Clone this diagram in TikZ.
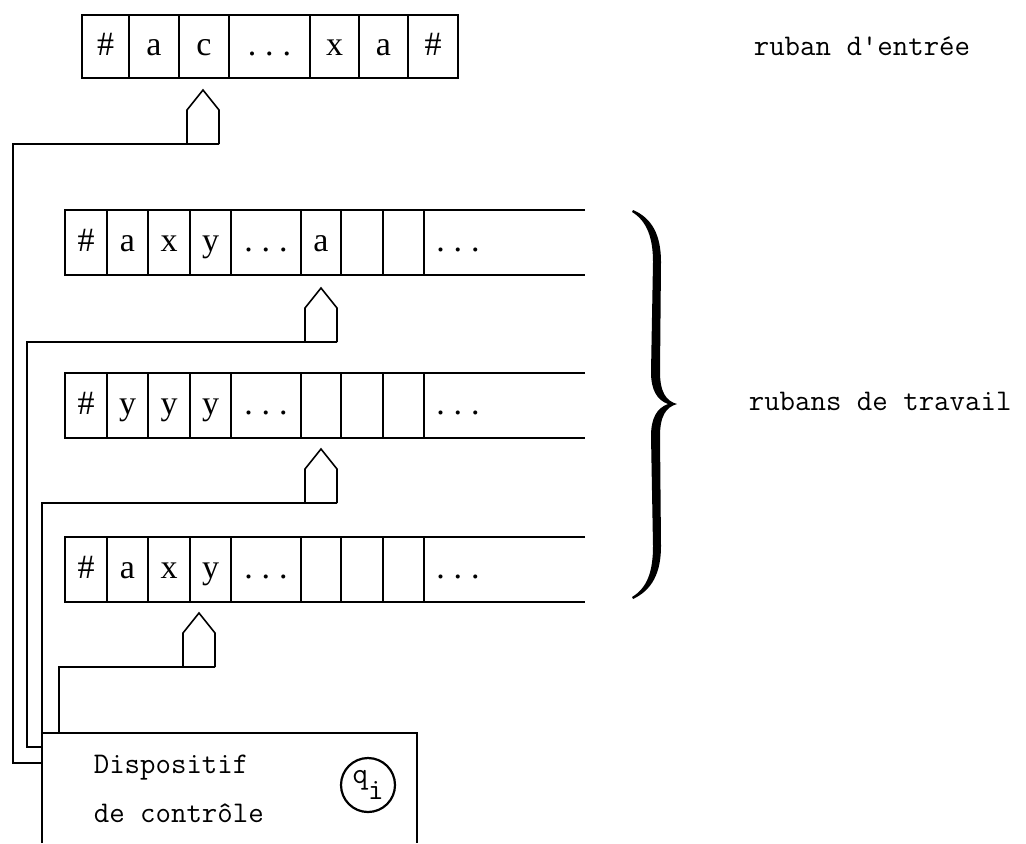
\documentclass[tikz,border=0pt]{standalone}
\usepackage{fontspec}
\setmainfont{Liberation Serif}
\begin{document}
\begin{tikzpicture}[x=0.5pt,y=-0.5pt,line width=0.8pt,
  cell/.style={inner sep=0pt,anchor=base,font=\fontsize{17}{18}\selectfont},
  lab/.style={inner sep=0pt,anchor=base west,font=\fontsize{15}{17}\ttfamily},
  head/.pic={\draw (-16,0) -- (-16,-34) -- (0,-54) -- (16,-34) -- (16,0);}]
\useasboundingbox (0,0) rectangle (1026,843);
\newcommand{\dts}{.\kern4.5pt.\kern4.5pt.}
% input tape
\draw (82,15) rectangle (458,78);
\foreach \x in {129,179,229,310,359,408} \draw (\x,15) -- (\x,78);
\foreach \t/\x [count=\i] in {\#/105.5,a/154,c/204,\dts/269.5,x/334.5,a/383.5,\#/433}
  \node[cell] (in\i) at (\x,55) {\t};
% work tapes
\foreach \y/\n in {210/A,373/B,537/C}{
  \draw (585,\y) -- (65,\y) -- (65,\y+65) -- (585,\y+65);
  \foreach \x in {107,148,190,231,301,341,383,424} \draw (\x,\y) -- (\x,\y+65);
}
\foreach \t/\x [count=\i] in {\#/86,a/127.5,x/169,y/210.5,\dts/266,a/321}
  \node[cell] (A\i) at (\x,251.5) {\t};
\node[cell] (A7) at (458,251.5) {\dts};
\foreach \t/\x [count=\i] in {\#/86,y/127.5,y/169,y/210.5,\dts/266}
  \node[cell] (B\i) at (\x,414.5) {\t};
\node[cell] (B6) at (458,414.5) {\dts};
\foreach \t/\x [count=\i] in {\#/86,a/127.5,x/169,y/210.5,\dts/266}
  \node[cell] (C\i) at (\x,578.5) {\t};
\node[cell] (C6) at (458,578.5) {\dts};
% heads
\pic at (203,144) {head};
\pic at (321,342) {head};
\pic at (321,503) {head};
\pic at (199,667) {head};
\coordinate (h1) at (219,144);
\coordinate (h2) at (337,342);
\coordinate (h3) at (337,503);
\coordinate (h4) at (215,667);
% control box
\coordinate (bl) at (42,733);
\coordinate (br) at (417,733);
\draw (42,843) -- (bl) -- (br) -- (417,843);
% wires
\draw (42,763) -| (13,144) -- (h1);
\draw (42,747) -| (27,342) -- (h2);
\draw (bl) -- (42,503) -- (h3);
\draw (59,733) -- (59,667) -- (h4);
\node[lab] (d1) at (93,773) {Dispositif};
\node[lab] (d2) at (93,822) {de contrôle};
\node[circle,draw,line width=1.1pt,minimum size=27pt,inner sep=0pt,font=\fontsize{15}{17}\ttfamily] (q) at (368,785)
  {q\raisebox{-8pt}{i}};
% brace
\fill (633,210) .. controls (652,218) and (661,235) .. (661,262)
  -- (660,372) .. controls (660,392) and (666,401) .. (677,404)
  .. controls (666,407) and (660,416) .. (660,436)
  -- (661,546) .. controls (661,573) and (652,590) .. (633,599)
  -- (632,597) .. controls (647,588) and (653,572) .. (653,546)
  -- (651,436) .. controls (651,418) and (657,408) .. (668,404)
  .. controls (657,400) and (651,390) .. (651,372)
  -- (653,262) .. controls (653,238) and (647,221) .. (632,212) -- cycle;
\node[lab] (t1) at (753,55) {ruban d'entrée};
\node[lab] (t2) at (748,410) {rubans de travail};
\end{tikzpicture}
\end{document}
